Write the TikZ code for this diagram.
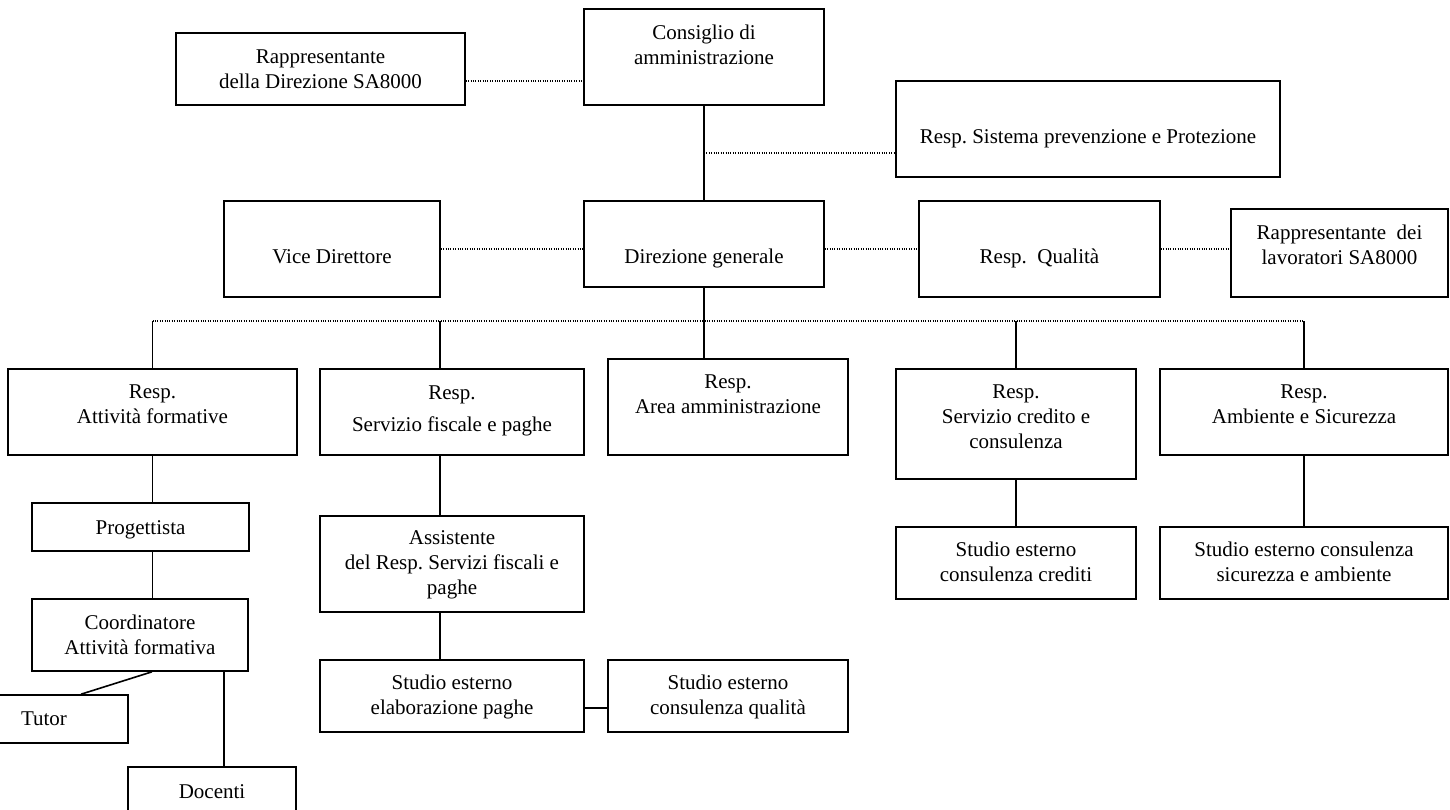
\documentclass[tikz,border=0pt]{standalone}
\usepackage{fontspec}
\setmainfont{Liberation Serif}
\frenchspacing

\tikzset{
  box/.style={draw, line width=1.6pt, align=center, inner sep=0pt,
    font=\fontsize{21}{25}\selectfont},
  sz/.style n args={3}{minimum width=#1pt, text height=#2pt, text depth=#3pt},
  link/.style={line width=1.6pt},
  dots/.style={line width=1.1pt, dash pattern=on 1pt off 1.4pt}
}

\begin{document}
\begin{tikzpicture}[x=1pt, y=-1pt]
  \useasboundingbox (0,0) rectangle (1450,809);

  \node[box, sz={289}{55}{17}] (rds) at (320.5,69) {Rappresentante\\della Direzione SA8000};
  \node[box, sz={240}{55}{41}] (cda) at (704,57) {Consiglio di\\amministrazione};
  \node[box, sz={384}{62}{34}] (rspp) at (1088,129) {Resp. Sistema prevenzione e Protezione};

  \node[box, sz={216}{62}{34}] (vd) at (332,249) {Vice Direttore};
  \node[box, sz={240}{62}{24}] (dg) at (704,244) {Direzione generale};
  \node[box, sz={241}{62}{34}] (rq) at (1039.5,249) {Resp.~ Qualità};
  \node[box, sz={217}{55}{33}] (rls) at (1339.5,253) {Rappresentante~ dei\\lavoratori SA8000};

  \node[box, sz={289}{54}{32}] (raf) at (152.5,412) {Resp.\\Attività formative};
  \node[box, sz={264}{62}{24}] (rsfp) at (452,412) {Resp.\\[7pt]Servizio fiscale e paghe};
  \node[box, sz={240}{54}{42}] (raa) at (728,407) {Resp.\\Area amministrazione};
  \node[box, sz={240}{79}{31}] (rscc) at (1016,424) {Resp.\\Servizio credito e\\consulenza};
  \node[box, sz={288}{54}{32}] (ras) at (1304,412) {Resp.\\Ambiente e Sicurezza};

  \node[box, sz={217}{31}{17}] (prog) at (140.5,527) {Progettista};
  \node[box, sz={216}{55}{17}] (coord) at (140,635) {Coordinatore\\Attività formativa};
  \node[box, sz={168}{30}{18}] (tutor) at (44,719) {Tutor};
  \node[box, sz={168}{31}{17}] (doc) at (212,791) {Docenti};

  \node[box, sz={264}{78}{18}] (ass) at (452,564) {Assistente\\del Resp. Servizi fiscali e\\paghe};
  \node[box, sz={264}{54}{18}] (seep) at (452,696) {Studio esterno\\elaborazione paghe};
  \node[box, sz={240}{54}{18}] (secq) at (728,696) {Studio esterno\\consulenza qualità};

  \node[box, sz={240}{54}{18}] (secc) at (1016,563) {Studio esterno\\consulenza crediti};
  \node[box, sz={288}{54}{18}] (secsa) at (1304,563) {Studio esterno consulenza\\sicurezza e ambiente};

  \coordinate (bus) at (0,321);

  \draw[dots] ([yshift=-12pt]rds.east) -- ([yshift=-12pt]rds.east -| cda.west);
  \draw[link] (cda.south) -- (dg.north);
  \draw[dots] ([yshift=-24pt]rspp.west -| cda.south) -- ([yshift=-24pt]rspp.west);
  \draw[dots] (vd.east) -- (vd.east -| dg.west);
  \draw[dots] (rq.west -| dg.east) -- (rq.west);
  \draw[dots] (rq.east) -- (rq.east -| rls.west);

  \draw[dots] (raf.north |- bus) -- (ras.north |- bus);
  \draw[link] (raf.north) -- (raf.north |- bus);
  \draw[link] ([xshift=-12pt]rsfp.north) -- ([xshift=-12pt]rsfp.north |- bus);
  \draw[link] (dg.south) -- (dg.south |- raa.north);
  \draw[link] (rscc.north) -- (rscc.north |- bus);
  \draw[link] (ras.north) -- (ras.north |- bus);

  \draw[link] (raf.south) -- (raf.south |- prog.north);
  \draw[link] (raf.south |- prog.south) -- (raf.south |- coord.north);
  \draw[link] ([xshift=12pt]coord.south) -- ([xshift=37pt]tutor.north);
  \draw[link] ([xshift=12pt]doc.north) -- ([xshift=12pt]doc.north |- coord.south);

  \draw[link] ([xshift=-12pt]rsfp.south) -- ([xshift=-12pt]ass.north);
  \draw[link] ([xshift=-12pt]ass.south) -- ([xshift=-12pt]seep.north);
  \draw[link] ([yshift=-12pt]seep.east) -- ([yshift=-12pt]secq.west);

  \draw[link] (rscc.south) -- (secc.north);
  \draw[link] (ras.south) -- (secsa.north);
\end{tikzpicture}
\end{document}
